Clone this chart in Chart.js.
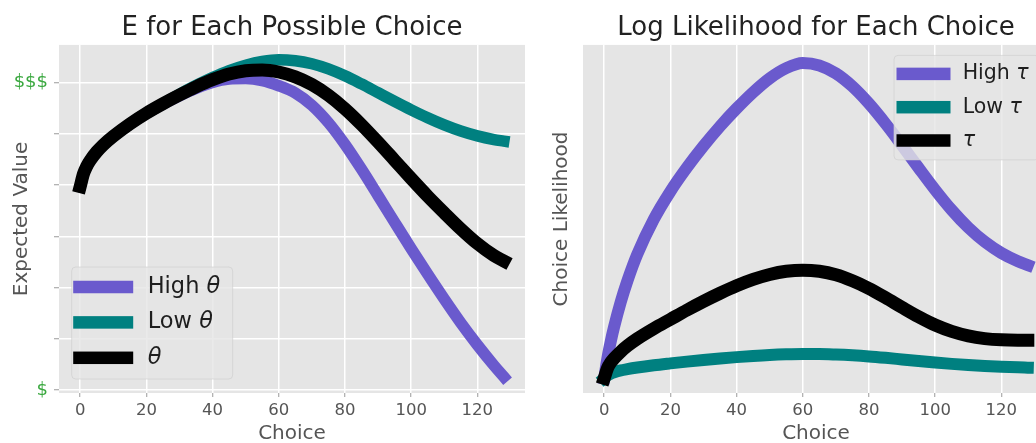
<!DOCTYPE html>
<html>
<head>
<meta charset="utf-8">
<script src="https://cdn.jsdelivr.net/npm/chart.js@4/dist/chart.umd.min.js"></script>
<style>
  html, body { margin: 0; padding: 0; background: #fff; width: 1036px; height: 443px; overflow: hidden; }
  body { position: relative; }
  canvas { position: absolute; top: 0; }
  #evChart { left: 0; }
  #llChart { left: 540px; }
</style>
</head>
<body>
<canvas id="evChart" width="540" height="443"></canvas>
<canvas id="llChart" width="520" height="443"></canvas>
<script>
// Choice values sampled along each curve
const choices = [0, 1, 2, 3, 5, 7, 10, 15, 20, 25, 30, 35, 40, 45, 50, 55, 60, 65, 70, 75, 80, 85, 90, 95, 100, 105, 110, 115, 120, 125, 128];

// Expected value per choice ($ = 0 ... $$$ = 6)
const evHighTheta = [3.97, 4.22, 4.37, 4.48, 4.65, 4.786, 4.954, 5.19, 5.40, 5.58, 5.745, 5.89, 6.005, 6.07, 6.08, 6.04, 5.94, 5.80, 5.56, 5.22, 4.795, 4.31, 3.795, 3.275, 2.76, 2.26, 1.775, 1.31, 0.88, 0.48, 0.255];
const evLowTheta  = [3.97, 4.22, 4.37, 4.48, 4.65, 4.786, 4.954, 5.194, 5.404, 5.59, 5.775, 5.945, 6.10, 6.235, 6.34, 6.415, 6.45, 6.43, 6.37, 6.27, 6.135, 5.975, 5.805, 5.635, 5.47, 5.315, 5.175, 5.055, 4.96, 4.89, 4.86];
const evTheta     = [3.97, 4.22, 4.37, 4.48, 4.65, 4.786, 4.954, 5.194, 5.404, 5.589, 5.759, 5.919, 6.059, 6.169, 6.234, 6.249, 6.209, 6.114, 5.964, 5.754, 5.489, 5.179, 4.839, 4.484, 4.129, 3.784, 3.459, 3.144, 2.859, 2.624, 2.519];

// Choice likelihood per choice (relative units)
const llHighTau = [0, 0.065, 0.117, 0.162, 0.240, 0.306, 0.390, 0.500, 0.5875, 0.6625, 0.730, 0.792, 0.848, 0.899, 0.943, 0.975, 0.991, 0.9835, 0.9585, 0.9175, 0.8635, 0.8005, 0.732, 0.6615, 0.5925, 0.529, 0.474, 0.429, 0.394, 0.368, 0.356];
const llLowTau  = [0, 0.009, 0.015, 0.019, 0.025, 0.029, 0.034, 0.041, 0.047, 0.0527, 0.058, 0.0627, 0.0668, 0.0705, 0.0735, 0.0755, 0.0765, 0.0765, 0.075, 0.0725, 0.069, 0.0645, 0.0595, 0.0545, 0.0498, 0.0455, 0.0419, 0.0389, 0.0365, 0.0346, 0.0337];
const llTau     = [0, 0.032, 0.050, 0.063, 0.084, 0.102, 0.1245, 0.1565, 0.1855, 0.2145, 0.242, 0.2675, 0.291, 0.311, 0.3265, 0.3365, 0.340, 0.3365, 0.3255, 0.3065, 0.2825, 0.2535, 0.223, 0.1935, 0.1675, 0.1475, 0.1335, 0.125, 0.121, 0.120, 0.120];

// Axis ticks
const xTickValues = [0, 20, 40, 60, 80, 100, 120];
const evTickValues = [0, 1, 2, 3, 4, 5, 6];
const evTickLabels = ['$', '', '', '', '', '', '$$$'];

const evLabels = ['High θ', 'Low θ', 'θ'];
const llLabels = ['High τ', 'Low τ', 'τ'];
const lineColors = ['#6A5ACD', '#008080', '#000000'];

const FONT = '"DejaVu Sans", sans-serif';

const toPoints = (ys) => choices.map((c, i) => ({ x: c, y: ys[i] }));

// Grey panel behind the plotting area
const plotBg = {
  id: 'plotBg',
  beforeDraw(chart) {
    const { ctx, chartArea: a } = chart;
    ctx.save();
    ctx.fillStyle = '#E5E5E5';
    ctx.fillRect(a.left, a.top, a.right - a.left, a.bottom - a.top);
    ctx.restore();
  }
};

// Framed legend drawn inside the plotting area
const boxLegend = {
  id: 'boxLegend',
  afterDraw(chart, args, o) {
    const { ctx, chartArea: a } = chart;
    const x0 = o.anchor === 'topRight' ? a.right - o.offsetX - o.width : a.left + o.offsetX;
    const y0 = o.anchor === 'topRight' ? a.top + o.offsetY : a.bottom - o.offsetY - o.height;
    ctx.save();
    ctx.beginPath();
    ctx.roundRect(x0, y0, o.width, o.height, 4);
    ctx.fillStyle = 'rgba(229,229,229,0.8)';
    ctx.fill();
    ctx.strokeStyle = 'rgba(204,204,204,0.6)';
    ctx.lineWidth = 1;
    ctx.stroke();
    chart.data.datasets.forEach((ds, i) => {
      const cy = y0 + o.firstRow + i * o.rowGap;
      ctx.fillStyle = ds.borderColor;
      ctx.fillRect(x0 + o.swatchX, cy - o.swatchH / 2, o.swatchW, o.swatchH);
      const head = ds.label.slice(0, -1);
      const sym = ds.label.slice(-1);
      ctx.fillStyle = '#1e1e1e';
      ctx.textBaseline = 'middle';
      ctx.textAlign = 'left';
      ctx.font = o.fontSize + 'px ' + FONT;
      ctx.fillText(head, x0 + o.textX, cy);
      const w = ctx.measureText(head).width;
      ctx.font = 'oblique ' + o.fontSize + 'px ' + FONT;
      ctx.fillText(sym, x0 + o.textX + w, cy);
    });
    ctx.restore();
  }
};

function makeDatasets(labels, series, widths) {
  return series.map((ys, i) => ({
    label: labels[i],
    data: toPoints(ys),
    borderColor: lineColors[i],
    backgroundColor: lineColors[i],
    borderWidth: widths[i],
    borderCapStyle: 'square',
    borderJoinStyle: 'round',
    cubicInterpolationMode: 'monotone',
    pointRadius: 0,
    fill: false,
    order: 2 - i
  }));
}

function xScale() {
  return {
    type: 'linear',
    min: -6.4,
    max: 134.4,
    afterBuildTicks: (s) => { s.ticks = xTickValues.map(v => ({ value: v })); },
    afterFit: (s) => { s.height = 50; },
    ticks: { color: '#555', font: { family: FONT, size: 16.5 }, padding: 4, maxRotation: 0, autoSkip: false },
    grid: { color: '#FFFFFF', lineWidth: 1.5, drawTicks: true, tickLength: 4, tickColor: '#9a9a9a', tickWidth: 1 },
    border: { display: false },
    title: { display: true, text: 'Choice', color: '#555', font: { family: FONT, size: 20, lineHeight: 0.9 }, padding: { top: 0, bottom: 0 } }
  };
}

function titleOpts(text) {
  return {
    display: true,
    text: text,
    fullSize: false,
    color: '#222',
    font: { family: FONT, size: 26, weight: 'normal', lineHeight: 1.15 },
    padding: { top: 13, bottom: 2 }
  };
}

new Chart(document.getElementById('evChart'), {
  type: 'line',
  data: { datasets: makeDatasets(evLabels, [evHighTheta, evLowTheta, evTheta], [11.5, 11.5, 13]) },
  options: {
    responsive: false,
    animation: false,
    devicePixelRatio: 1,
    layout: { padding: { left: 0, right: 15, top: 0, bottom: 0 } },
    plugins: {
      legend: { display: false },
      tooltip: { enabled: false },
      title: titleOpts('E for Each Possible Choice'),
      boxLegend: {
        anchor: 'bottomLeft', offsetX: 12.7, offsetY: 14, width: 161, height: 112,
        firstRow: 20, rowGap: 35.4, swatchX: 1.5, swatchW: 60, swatchH: 12.5, textX: 76, fontSize: 22.5
      }
    },
    scales: {
      x: xScale(),
      y: {
        type: 'linear',
        min: -0.06,
        max: 6.738,
        afterBuildTicks: (s) => { s.ticks = evTickValues.map(v => ({ value: v })); },
        afterFit: (s) => { s.width = 59; },
        ticks: {
          color: '#3AA83F',
          font: { family: FONT, size: 18 },
          padding: 6,
          callback: (v) => evTickLabels[evTickValues.indexOf(v)]
        },
        grid: { color: '#FFFFFF', lineWidth: 1.5, drawTicks: true, tickLength: 5, tickColor: '#9a9a9a', tickWidth: 1 },
        border: { display: false },
        title: { display: true, text: 'Expected Value', color: '#555', font: { family: FONT, size: 20, lineHeight: 1 }, padding: { top: 12, bottom: 0 } }
      }
    }
  },
  plugins: [plotBg, boxLegend]
});

new Chart(document.getElementById('llChart'), {
  type: 'line',
  data: { datasets: makeDatasets(llLabels, [llHighTau, llLowTau, llTau], [12, 12, 13]) },
  options: {
    responsive: false,
    animation: false,
    devicePixelRatio: 1,
    layout: { padding: { left: 0, right: 11, top: 0, bottom: 0 } },
    plugins: {
      legend: { display: false },
      tooltip: { enabled: false },
      title: titleOpts('Log Likelihood for Each Choice'),
      boxLegend: {
        anchor: 'topRight', offsetX: 10, offsetY: 10.5, width: 145, height: 104.5,
        firstRow: 18.5, rowGap: 33.3, swatchX: 2.5, swatchW: 54, swatchH: 12.5, textX: 68.7, fontSize: 20.5
      }
    },
    scales: {
      x: xScale(),
      y: {
        type: 'linear',
        min: -0.046,
        max: 1.048,
        afterFit: (s) => { s.width = 43; },
        ticks: { display: false },
        grid: { display: false },
        border: { display: false },
        title: { display: true, text: 'Choice Likelihood', color: '#555', font: { family: FONT, size: 20, lineHeight: 1 }, padding: { top: 12, bottom: 0 } }
      }
    }
  },
  plugins: [plotBg, boxLegend]
});
</script>
</body>
</html>
